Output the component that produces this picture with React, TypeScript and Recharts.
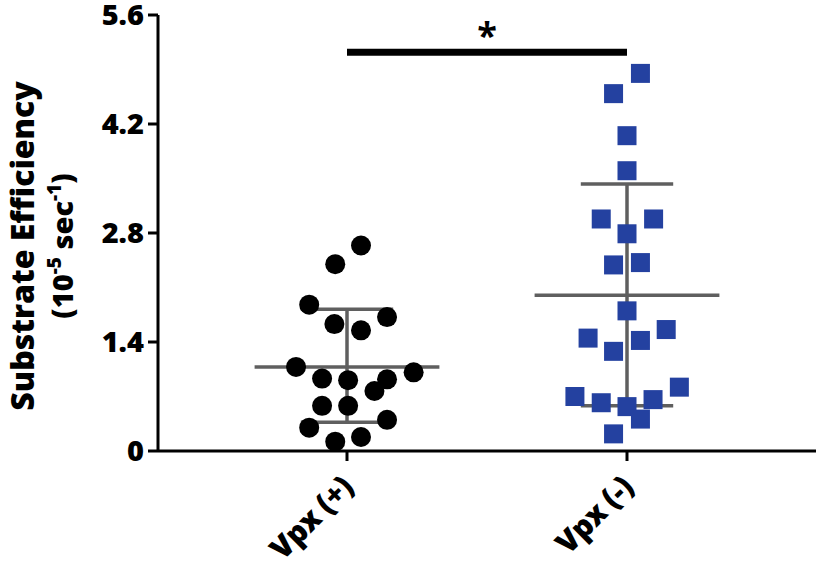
import React from 'react';
import { ScatterChart, Scatter, XAxis, YAxis, ReferenceLine, Label } from 'recharts';

const CATEGORIES = ['Vpx (+)', 'Vpx (-)'];
const GROUP_X = [1, 2];
const Y_TICKS = [0, 1.4, 2.8, 4.2, 5.6];

// Vpx (+) points, jittered x
const vpxPlusX = [1.05, 0.958, 0.865, 1.143, 0.955, 1.05, 0.818, 1.238, 0.911, 1.004, 1.143, 1.098, 0.911, 1.004, 1.143, 0.865, 1.05, 0.958];
const vpxPlusY = [2.64, 2.4, 1.88, 1.72, 1.63, 1.55, 1.08, 1.01, 0.93, 0.91, 0.92, 0.77, 0.58, 0.58, 0.4, 0.3, 0.18, 0.12];

// Vpx (-) points
const vpxMinusX = [2.048, 1.952, 2.0, 2.0, 1.908, 2.095, 2.0, 1.952, 2.048, 2.0, 1.861, 2.14, 1.952, 2.048, 2.187, 1.814, 1.908, 2.0, 2.093, 2.048, 1.952];
const vpxMinusY = [4.85, 4.59, 4.05, 3.6, 2.98, 2.98, 2.79, 2.39, 2.42, 1.8, 1.45, 1.56, 1.28, 1.42, 0.82, 0.7, 0.62, 0.57, 0.66, 0.41, 0.22];

// mean +/- SD per group
const MEANS = [1.08, 2.0];
const SD_LOW = [0.37, 0.58];
const SD_HIGH = [1.82, 3.43];
const SIG_Y = 5.12;

const MEAN_HALF = 0.33;
const CAP_HALF = 0.165;
const FONT = '"Open Sans", "Noto Sans", sans-serif';
const GREY = '#5f5f5f';
const BLUE = '#2441a0';

const plusData = vpxPlusX.map((x, i) => ({ x, y: vpxPlusY[i] }));
const minusData = vpxMinusX.map((x, i) => ({ x, y: vpxMinusY[i] }));

const Dot = (p: any) => <circle cx={p.cx} cy={p.cy} r={10} fill="#000" />;
const Box = (p: any) => <rect x={p.cx - 9.5} y={p.cy - 9.5} width={19} height={19} fill={BLUE} />;

const XTick = (props: any) => {
  const { x, y, payload } = props;
  const idx = GROUP_X.indexOf(payload.value);
  return (
    <g transform={`translate(${x + 8},${y + 26})`}>
      <text
        x={0}
        y={0}
        textAnchor="end"
        transform="rotate(-45)"
        fontFamily={FONT}
        fontWeight={800}
        fontSize={30}
        letterSpacing={-0.5}
        fill="#000"
      >
        {CATEGORIES[idx]}
      </text>
    </g>
  );
};

const YLabel = (props: any) => {
  const { x, y, height } = props.viewBox;
  const cy = y + height / 2 + 13;
  const b1 = x - 44;
  const b2 = x - 5;
  return (
    <g fontFamily={FONT} fontWeight={800} fill="#000">
      <text x={b1} y={cy} textAnchor="middle" fontSize={32} transform={`rotate(-90, ${b1}, ${cy})`}>
        Substrate Efficiency
      </text>
      <text x={b2} y={cy} textAnchor="middle" fontSize={29} transform={`rotate(-90, ${b2}, ${cy})`}>
        (10<tspan dy={-12} fontSize={19}>-5</tspan>
        <tspan dy={12}> sec</tspan>
        <tspan dy={-12} fontSize={19}>-1</tspan>
        <tspan dy={12}>)</tspan>
      </text>
    </g>
  );
};

export default function App() {
  return (
    <div style={{ position: 'absolute', left: 0, top: 0, width: 816, height: 571, background: '#fff' }}>
      <ScatterChart width={816} height={571} margin={{ top: 15, right: 0, bottom: 10, left: 78 }}>
        <XAxis
          type="number"
          dataKey="x"
          domain={[0.325, 2.675]}
          ticks={GROUP_X}
          interval={0}
          height={110}
          tick={<XTick />}
          tickSize={10}
          axisLine={{ stroke: '#000', strokeWidth: 3 }}
          tickLine={{ stroke: '#000', strokeWidth: 3 }}
          allowDataOverflow
        />
        <YAxis
          type="number"
          dataKey="y"
          domain={[0, 5.6]}
          ticks={Y_TICKS}
          interval={0}
          width={80}
          tickSize={10}
          tickMargin={4}
          tickFormatter={(v: number) => (v === 0 ? '0' : v.toFixed(1))}
          tick={{ fill: '#000', fontSize: 29, fontWeight: 800, fontFamily: FONT }}
          axisLine={{ stroke: '#000', strokeWidth: 3 }}
          tickLine={{ stroke: '#000', strokeWidth: 3 }}
        >
          <Label content={<YLabel />} />
        </YAxis>

        {GROUP_X.map((gx, i) => (
          <React.Fragment key={gx}>
            <ReferenceLine
              segment={[{ x: gx - MEAN_HALF, y: MEANS[i] }, { x: gx + MEAN_HALF, y: MEANS[i] }]}
              stroke={GREY}
              strokeWidth={3.5}
            />
            <ReferenceLine
              segment={[{ x: gx, y: SD_LOW[i] }, { x: gx, y: SD_HIGH[i] }]}
              stroke={GREY}
              strokeWidth={3.5}
            />
            <ReferenceLine
              segment={[{ x: gx - CAP_HALF, y: SD_LOW[i] }, { x: gx + CAP_HALF, y: SD_LOW[i] }]}
              stroke={GREY}
              strokeWidth={3.5}
            />
            <ReferenceLine
              segment={[{ x: gx - CAP_HALF, y: SD_HIGH[i] }, { x: gx + CAP_HALF, y: SD_HIGH[i] }]}
              stroke={GREY}
              strokeWidth={3.5}
            />
          </React.Fragment>
        ))}

        <ReferenceLine
          segment={[{ x: GROUP_X[0], y: SIG_Y }, { x: GROUP_X[1], y: SIG_Y }]}
          stroke="#000"
          strokeWidth={7}
        >
          <Label value="*" position="top" offset={4} fontSize={36} fontWeight={700} fontFamily={FONT} fill="#000" />
        </ReferenceLine>

        <Scatter data={plusData} shape={Dot} isAnimationActive={false} />
        <Scatter data={minusData} shape={Box} isAnimationActive={false} />
      </ScatterChart>
    </div>
  );
}
